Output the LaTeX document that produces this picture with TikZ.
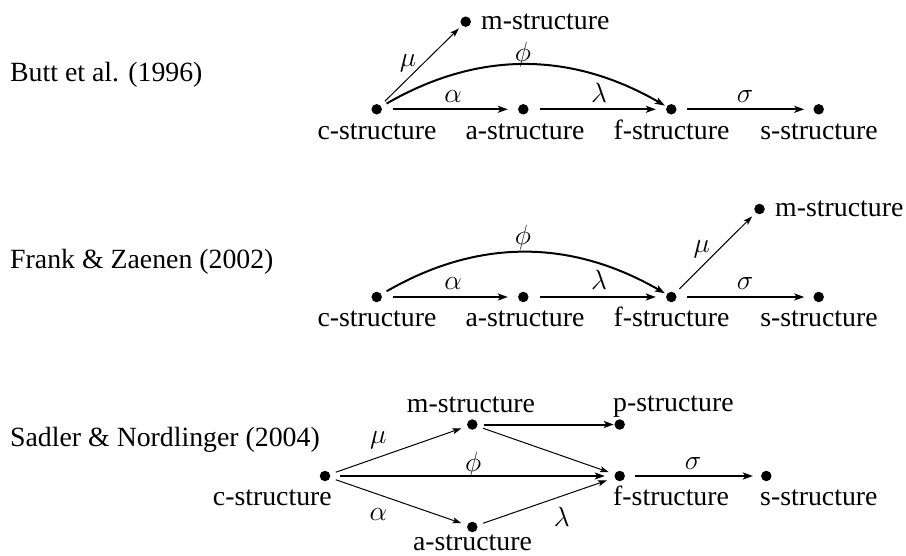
\RequirePackage{fix-cm}
\documentclass[tikz,border=0pt]{standalone}
\usepackage{fontspec}
\setmainfont{Liberation Serif}
\usetikzlibrary{arrows.meta}
\begin{document}
\begin{tikzpicture}[x=1pt,y=-1pt,
  dot/.style={circle,fill=black,inner sep=0pt,minimum size=10.5pt},
  txt/.style={inner sep=0pt,font=\fontsize{27.8}{33}\selectfont},
  thk/.style={line width=2pt,-{Stealth[length=10pt,width=7pt,inset=2.5pt]}},
  thn/.style={line width=1pt,-{Stealth[length=9pt,width=6pt,inset=2pt]}},
]
\fill[white] (0,0) rectangle (906,556);
\useasboundingbox (0,0) rectangle (906,556);

% ---------- Diagram 1 ----------
\node[txt,anchor=base west] (h1) at (10,81.5) {Butt et al. (1996)};
\node[dot] (c1) at (376.7,109.3) {};
\node[dot] (a1) at (523.3,109.3) {};
\node[dot] (f1) at (671.3,109.3) {};
\node[dot] (s1) at (818.7,109.3) {};
\node[dot] (m1) at (465.7,21.7) {};
\node[txt,anchor=base] (c1l) at (377,140) {c-structure};
\node[txt,anchor=base] (a1l) at (525,140) {a-structure};
\node[txt,anchor=base] (f1l) at (671.5,140) {f-structure};
\node[txt,anchor=base] (s1l) at (819,140) {s-structure};
\node[txt,anchor=base west] (m1l) at (481,30) {m-structure};
\draw[thk,shorten <=11pt,shorten >=10pt] (c1) -- (a1);
\draw[thk,shorten <=11pt,shorten >=10pt] (a1) -- (f1);
\draw[thk,shorten <=10pt,shorten >=9pt] (f1) -- (s1);
\draw[thn,shorten <=6pt,shorten >=4pt] (c1) -- (m1);
\draw[thk,shorten <=6pt,shorten >=2pt] (c1) to[bend left=30] (f1);
\node[txt,anchor=base] (mu1) at (408,66.5) {$\mu$};
\node[txt,anchor=base] (phi1) at (523,61.4) {$\phi$};
\node[txt,anchor=base] (al1) at (453,102.8) {$\alpha$};
\node[txt,anchor=base] (la1) at (599,102.8) {$\lambda$};
\node[txt,anchor=base] (si1) at (745,102.8) {$\sigma$};

% ---------- Diagram 2 ----------
\node[txt,anchor=base west] (h2) at (10,268.3) {Frank \& Zaenen (2002)};
\node[dot] (c2) at (376.7,297) {};
\node[dot] (a2) at (523.3,297) {};
\node[dot] (f2) at (671.3,297) {};
\node[dot] (s2) at (818.7,297) {};
\node[dot] (m2) at (759.5,209) {};
\node[txt,anchor=base] (c2l) at (377,326.5) {c-structure};
\node[txt,anchor=base] (a2l) at (525,326.5) {a-structure};
\node[txt,anchor=base] (f2l) at (671.5,326.5) {f-structure};
\node[txt,anchor=base] (s2l) at (819,326.5) {s-structure};
\node[txt,anchor=base west] (m2l) at (775,216.7) {m-structure};
\draw[thk,shorten <=11pt,shorten >=10pt] (c2) -- (a2);
\draw[thk,shorten <=11pt,shorten >=10pt] (a2) -- (f2);
\draw[thk,shorten <=10pt,shorten >=9pt] (f2) -- (s2);
\draw[thn,shorten <=6pt,shorten >=5pt] (f2) -- (m2);
\draw[thk,shorten <=6pt,shorten >=2pt] (c2) to[bend left=30] (f2);
\node[txt,anchor=base] (phi2) at (523,245) {$\phi$};
\node[txt,anchor=base] (al2) at (453,290) {$\alpha$};
\node[txt,anchor=base] (la2) at (599,290) {$\lambda$};
\node[txt,anchor=base] (si2) at (745,290) {$\sigma$};
\node[txt,anchor=base] (mu2) at (701.7,253) {$\mu$};

% ---------- Diagram 3 ----------
\node[txt,anchor=base west] (h3) at (10,446.3) {Sadler \& Nordlinger (2004)};
\node[dot] (c3) at (325,476) {};
\node[dot] (m3) at (472.3,424.5) {};
\node[dot] (p3) at (619.7,424.5) {};
\node[dot] (f3) at (619.7,476) {};
\node[dot] (s3) at (766.3,476) {};
\node[dot] (a3) at (472.3,527) {};
\node[txt,anchor=base east] (c3l) at (332,505) {c-structure};
\node[txt,anchor=base] (m3l) at (471,413) {m-structure};
\node[txt,anchor=base west] (p3l) at (613,411.5) {p-structure};
\node[txt,anchor=base west] (f3l) at (613,505) {f-structure};
\node[txt,anchor=base west] (s3l) at (760,505) {s-structure};
\node[txt,anchor=base] (a3l) at (472.5,550.5) {a-structure};
\draw[thn,shorten <=6pt,shorten >=6pt] (c3) -- (m3);
\draw[thk,shorten <=10pt,shorten >=9.5pt] (c3) -- (f3);
\draw[thn,shorten <=6pt,shorten >=6pt] (c3) -- (a3);
\draw[thk,shorten <=6pt,shorten >=0.5pt] (m3) -- (p3);
\draw[thn,shorten <=6pt,shorten >=6pt] (m3) -- (f3);
\draw[thn,shorten <=6pt,shorten >=8pt] (a3) -- (f3);
\draw[thk,shorten <=10pt,shorten >=8pt] (f3) -- (s3);
\node[txt,anchor=base] (mu3) at (378.3,443) {$\mu$};
\node[txt,anchor=base] (phi3) at (473.3,471.5) {$\phi$};
\node[txt,anchor=base] (al3) at (378.3,520) {$\alpha$};
\node[txt,anchor=base] (la3) at (561.7,526.7) {$\lambda$};
\node[txt,anchor=base] (si3) at (693,469.7) {$\sigma$};
\end{tikzpicture}
\end{document}
